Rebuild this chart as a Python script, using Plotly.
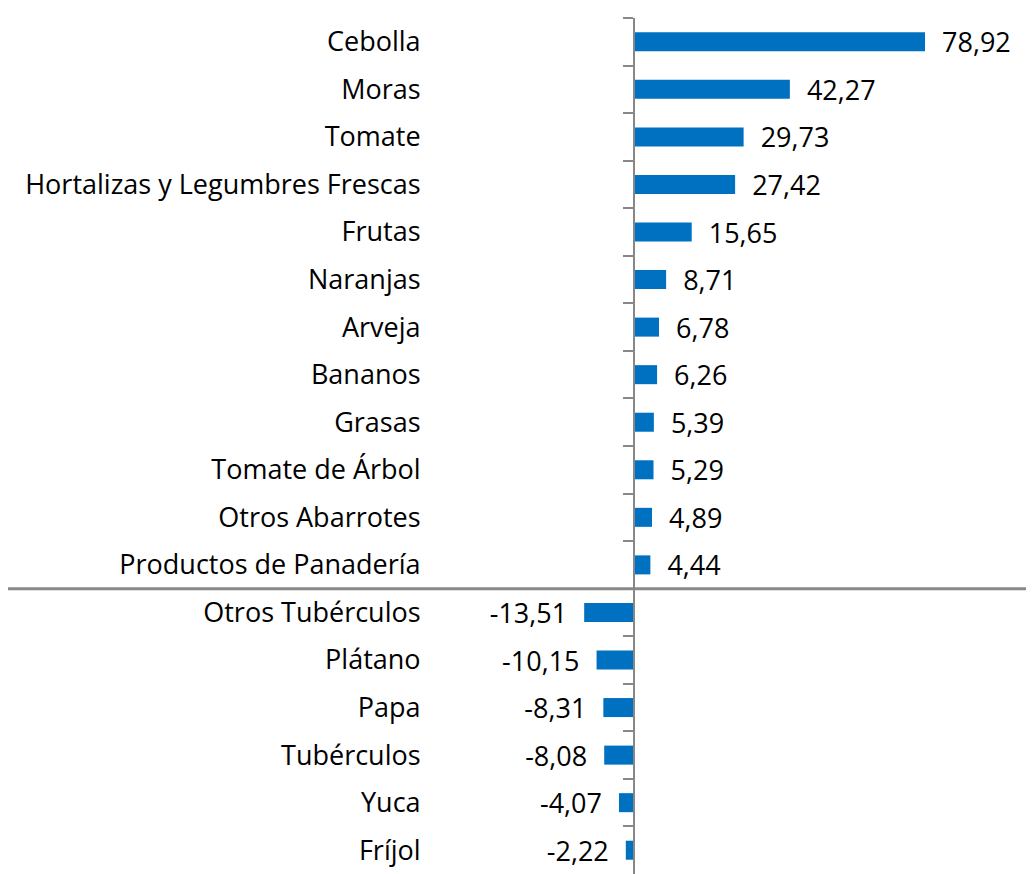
import plotly.graph_objects as go

categories = ["Cebolla", "Moras", "Tomate", "Hortalizas y Legumbres Frescas", "Frutas",
              "Naranjas", "Arveja", "Bananos", "Grasas", "Tomate de Árbol",
              "Otros Abarrotes", "Productos de Panadería", "Otros Tubérculos",
              "Plátano", "Papa", "Tubérculos", "Yuca", "Fríjol"]
values = [78.92, 42.27, 29.73, 27.42, 15.65, 8.71, 6.78, 6.26, 5.39, 5.29, 4.89, 4.44,
          -13.51, -10.15, -8.31, -8.08, -4.07, -2.22]

OFF = 8  # page body margin
W, H = 1034 - OFF, 874 - OFF
zero_px = 634 - OFF
px_per_unit = (925 - 634) / 78.92
xmin = -zero_px / px_per_unit
xmax = (W - zero_px) / px_per_unit

labels = [f"{v:.2f}".replace(".", ",") for v in values]
pad = "\u00a0\u00a0"
texts = [(pad + t) if v >= 0 else (t + pad) for t, v in zip(labels, values)]

n_pos = sum(1 for v in values if v >= 0)
sep_y = 1 - n_pos / len(categories)  # boundary between positive and negative groups (paper)

FONT = "Open Sans"
FS = 27

fig = go.Figure()
fig.add_trace(go.Bar(
    y=categories, x=values, orientation="h",
    marker=dict(color="#0070C0", line=dict(width=0)),
    text=texts, textposition="outside", cliponaxis=False, constraintext="none",
    textfont=dict(family=FONT, size=FS, color="#000000"),
    outsidetextfont=dict(family=FONT, size=FS, color="#000000"),
    hoverinfo="skip",
))

fig.update_layout(
    width=W, height=H,
    margin=dict(l=0, r=0, t=18 - OFF, b=0),
    plot_bgcolor="white", paper_bgcolor="white",
    bargap=0.6, showlegend=False,
    font=dict(family=FONT, size=FS, color="#000000"),
    xaxis=dict(range=[xmin, xmax], visible=False, fixedrange=True),
    yaxis=dict(
        autorange="reversed", type="category",
        anchor="free", position=zero_px / W,
        showline=True, linecolor="#878787", linewidth=2,
        ticks="outside", tickson="boundaries", ticklen=10, tickwidth=2, tickcolor="#878787",
        ticklabelstandoff=207, showgrid=False, automargin=False,
        tickfont=dict(family=FONT, size=FS, color="#000000"),
    ),
    shapes=[dict(type="line", xref="paper", yref="paper", x0=-0.02, x1=1.02,
                 y0=sep_y, y1=sep_y,
                 line=dict(color="#898989", width=3), layer="below")],
)

fig.write_html("out.html")
